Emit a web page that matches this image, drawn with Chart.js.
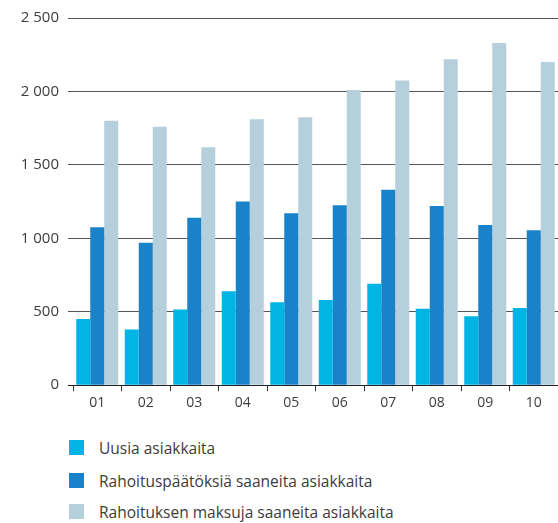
<!DOCTYPE html>
<html>
<head>
<meta charset="utf-8">
<script src="https://cdn.jsdelivr.net/npm/chart.js@4"></script>
<style>
  html, body { margin: 0; padding: 0; background: #fff; }
  #wrap { position: relative; width: 558px; height: 523px; }
  #c { position: absolute; left: 0; top: 0; }
  .leg { position: absolute; left: 69px; font: 15.5px "Open Sans", sans-serif; color: #3c3c3c; }
  .leg span.box { position: absolute; left: 0; top: 0; width: 15px; height: 15px; }
  .leg span.txt { position: absolute; left: 30px; top: -3px; white-space: nowrap; }
</style>
</head>
<body>
<div id="wrap">
  <canvas id="c" width="558" height="414"></canvas>
  <div id="legend"></div>
</div>
<script>
const categories = ["01", "02", "03", "04", "05", "06", "07", "08", "09", "10"];
const seriesNames = ["Uusia asiakkaita", "Rahoituspäätöksiä saaneita asiakkaita", "Rahoituksen maksuja saaneita asiakkaita"];
const uusia = [450, 380, 515, 640, 565, 580, 690, 520, 470, 525];
const paatokset = [1075, 970, 1140, 1250, 1170, 1225, 1330, 1220, 1090, 1055];
const maksut = [1800, 1760, 1620, 1810, 1825, 2010, 2075, 2220, 2330, 2200];
const yTicks = [0, 500, 1000, 1500, 2000, 2500];
const colors = ["#00b4e4", "#1a82c8", "#b5d0dc"];

function fmt(v) { return String(v).replace(/\B(?=(\d{3})+(?!\d))/g, " "); }

const seriesData = [uusia, paatokset, maksut];
const chart = new Chart(document.getElementById("c"), {
  type: "bar",
  data: {
    labels: categories,
    datasets: seriesData.map((d, i) => ({
      label: seriesNames[i],
      data: d,
      backgroundColor: colors[i],
      borderWidth: 0,
      barPercentage: 1.0,
      categoryPercentage: 0.866
    }))
  },
  options: {
    responsive: false,
    animation: false,
    layout: { padding: { top: 14, right: 0, left: 0, bottom: 0 } },
    plugins: { legend: { display: false }, tooltip: { enabled: false } },
    scales: {
      x: {
        offset: true,
        grid: { offset: true, drawOnChartArea: false, drawTicks: true, tickLength: 6, color: "#333", lineWidth: 1 },
        border: { display: false },
        ticks: { color: "#3c3c3c", font: { family: "Open Sans", size: 14 }, padding: 3 }
      },
      y: {
        min: 0, max: 2500,
        afterBuildTicks: (s) => { s.ticks = yTicks.map(v => ({ value: v })); },
        afterFit: (s) => { s.width = 73; },
        grid: { color: (ctx) => ctx.tick && ctx.tick.value === 0 ? "#222" : "#555", lineWidth: 1, drawTicks: true, tickLength: 5 },
        border: { display: false },
        ticks: { color: "#3c3c3c", font: { family: "Open Sans", size: 15 }, padding: 9, callback: (v) => fmt(v) }
      }
    }
  }
});

const legendTops = [440, 473, 504];
const leg = document.getElementById("legend");
seriesNames.forEach((n, i) => {
  const d = document.createElement("div");
  d.className = "leg";
  d.style.top = legendTops[i] + "px";
  d.innerHTML = '<span class="box" style="background:' + colors[i] + '"></span><span class="txt"></span>';
  d.querySelector(".txt").textContent = n;
  leg.appendChild(d);
});
</script>
</body>
</html>
